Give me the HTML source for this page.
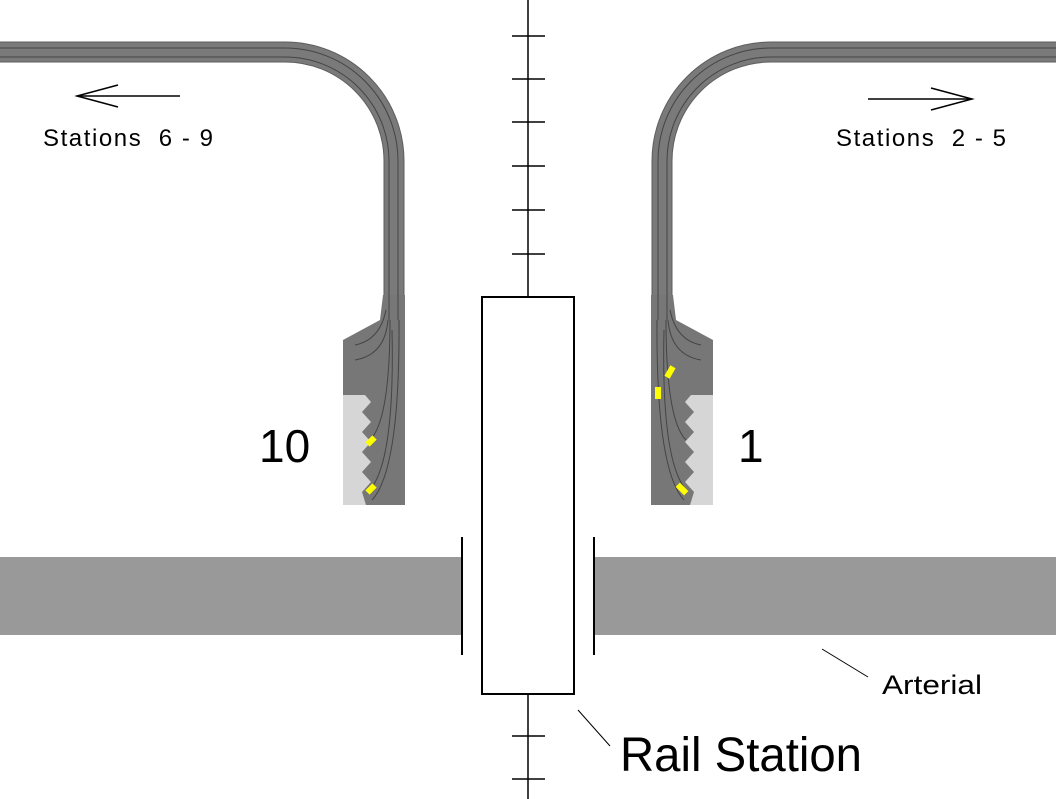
<!DOCTYPE html>
<html><head><style>
html,body{margin:0;padding:0;background:#fff;}
svg{display:block;}
text{font-family:"Liberation Sans",sans-serif;fill:#000;}
</style></head><body>
<svg width="1056" height="799" viewBox="0 0 1056 799" xmlns="http://www.w3.org/2000/svg">
<!-- left track -->
<path d="M0,52 H285 A109,109 0 0 1 394,161 V300" fill="none" stroke="#5e5e5e" stroke-width="21"/>
<path d="M0,52 H285 A109,109 0 0 1 394,161 V300" fill="none" stroke="#7a7a7a" stroke-width="19"/>
<path d="M383,295 L380,320 L343,340 V505 H405 V295 Z" fill="#777"/>
<path d="M343,395 H365 L371,402 L362,412 L371,422 L362,432 L371,442 L362,452 L371,462 L362,472 L371,482 L362,492 L366,505 H343 Z" fill="#d6d6d6"/>
<g fill="none" stroke="#444" stroke-width="1">
<path d="M0,48 H285 A113,113 0 0 1 398,161 V320"/>
<path d="M0,57 H285 A104,104 0 0 1 389,161 V320"/>
<path d="M386,310 Q380,340 355,345"/>
<path d="M388,320 Q385,355 355,360"/>
<path d="M390,320 Q390,420 370,440"/>
<path d="M392,330 Q395,460 370,490"/>
<path d="M399,320 Q400,470 372,500"/>
</g>
<rect x="368" y="436" width="6" height="10" fill="#ff0" transform="rotate(45 371 441)"/>
<rect x="368" y="484" width="6" height="10" fill="#ff0" transform="rotate(45 371 489)"/>
<!-- right track -->
<path d="M1056,52 H771 A109,109 0 0 0 662,161 V300" fill="none" stroke="#5e5e5e" stroke-width="21"/>
<path d="M1056,52 H771 A109,109 0 0 0 662,161 V300" fill="none" stroke="#7a7a7a" stroke-width="19"/>
<path d="M673,295 L676,320 L713,340 V505 H651 V295 Z" fill="#777"/>
<path d="M713,395 H691 L685,402 L694,412 L685,422 L694,432 L685,442 L694,452 L685,462 L694,472 L685,482 L694,492 L690,505 H713 Z" fill="#d6d6d6"/>
<g fill="none" stroke="#444" stroke-width="1">
<path d="M1056,48 H771 A113,113 0 0 0 658,161 V320"/>
<path d="M1056,57 H771 A104,104 0 0 0 667,161 V320"/>
<path d="M670,310 Q676,340 701,345"/>
<path d="M668,320 Q671,355 701,360"/>
<path d="M666,320 Q666,420 686,440"/>
<path d="M664,330 Q661,460 686,490"/>
<path d="M657,320 Q656,470 684,500"/>
</g>
<rect x="667" y="366" width="6" height="12" fill="#ff0" transform="rotate(30 670 372)"/>
<rect x="655" y="387" width="6" height="12" fill="#ff0"/>
<rect x="679" y="483" width="6" height="12" fill="#ff0" transform="rotate(-45 682 489)"/>
<!-- arterial -->
<rect x="0" y="557" width="462" height="78" fill="#999"/>
<rect x="594" y="557" width="462" height="78" fill="#999"/>
<line x1="462" y1="537" x2="462" y2="655" stroke="#000" stroke-width="2"/>
<line x1="594" y1="537" x2="594" y2="655" stroke="#000" stroke-width="2"/>
<!-- rail -->
<g stroke="#000" stroke-width="1.5">
<line x1="528" y1="0" x2="528" y2="297"/>
<line x1="528" y1="694" x2="528" y2="799"/>
<line x1="512" y1="36" x2="545" y2="36"/>
<line x1="512" y1="79" x2="545" y2="79"/>
<line x1="512" y1="122" x2="545" y2="122"/>
<line x1="512" y1="166" x2="545" y2="166"/>
<line x1="512" y1="210" x2="545" y2="210"/>
<line x1="512" y1="254" x2="545" y2="254"/>
<line x1="512" y1="736" x2="545" y2="736"/>
<line x1="512" y1="779" x2="545" y2="779"/>
</g>
<rect x="482" y="297" width="92" height="397" fill="#fff" stroke="#000" stroke-width="2"/>
<!-- arrows -->
<g stroke="#000" stroke-width="1.5" fill="none">
<line x1="180" y1="96" x2="77" y2="96"/>
<polyline points="118,85 77,96 118,107"/>
<line x1="868" y1="99" x2="972" y2="99"/>
<polyline points="931,88 972,99 931,110"/>
<line x1="822" y1="649" x2="868" y2="677" stroke-width="1"/>
<line x1="578" y1="710" x2="610" y2="746" stroke-width="1"/>
</g>
<text x="43" y="146" font-size="24" textLength="170" lengthAdjust="spacing">Stations&#160;&#160;6 - 9</text>
<text x="836" y="146" font-size="24" textLength="170" lengthAdjust="spacing">Stations&#160;&#160;2 - 5</text>
<text x="259" y="462" font-size="46">10</text>
<text x="738" y="462" font-size="46">1</text>
<text x="882" y="694" font-size="27" textLength="100" lengthAdjust="spacingAndGlyphs">Arterial</text>
<text x="620" y="771" font-size="48" textLength="242" lengthAdjust="spacingAndGlyphs">Rail Station</text>
</svg>
</body></html>
